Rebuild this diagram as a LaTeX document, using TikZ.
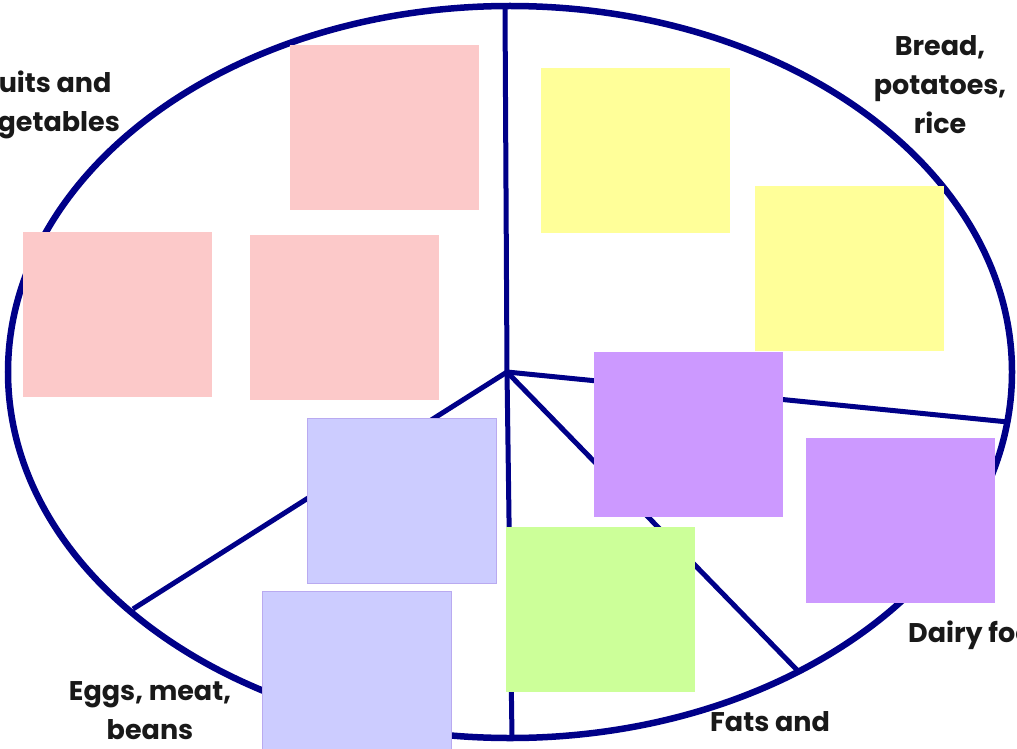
\documentclass[tikz,border=0pt]{standalone}
\usepackage{fontspec}
\setmainfont{Poppins}
\usetikzlibrary{calc}
\definecolor{navy}{RGB}{0,0,136}
\definecolor{pinkbox}{RGB}{252,201,201}
\definecolor{yellowbox}{RGB}{255,255,153}
\definecolor{purplebox}{RGB}{204,153,255}
\definecolor{lavbox}{RGB}{204,204,255}
\definecolor{lavedge}{RGB}{185,170,240}
\definecolor{greenbox}{RGB}{204,255,153}
\begin{document}
\begin{tikzpicture}[x=1pt,y=-1pt,
  lbl/.style={font=\fontsize{27}{39}\selectfont\bfseries,text=black!90,align=center,inner sep=0pt}]
  \useasboundingbox (0,0) rectangle (1017,749);
  \clip (0,0) rectangle (1017,749);
  \coordinate (O) at (507,372);
  \coordinate (T) at (505,7); \coordinate (R) at (1008,422);
  \coordinate (S) at (798,671); \coordinate (B) at (512,738);
  \coordinate (W) at (133,609);
  \draw[navy,line width=6.5pt] (510,372) ellipse [x radius=502,y radius=366];
  \foreach \p in {T,R,S,B,W}
    \draw[navy,line width=5pt] (O)--(\p);
  \foreach \x/\y/\c in {290/45/pinkbox,23/232/pinkbox,250/235/pinkbox,
      541/68/yellowbox,755/186/yellowbox,594/352/purplebox,806/438/purplebox,
      506/527/greenbox}
    \fill[\c] (\x,\y) rectangle ++(189,165);
  \foreach \x/\y in {307/418,262/591}
    \filldraw[fill=lavbox,draw=lavedge,line width=1pt] (\x,\y) rectangle ++(189,165);
  \node[lbl] (fruit) at (42,105) {Fruits and\\vegetables};
  \node[lbl] (bread) at (940,85) {Bread,\\potatoes,\\rice};
  \node[lbl] (eggs) at (150,711) {Eggs, meat,\\beans};
  \node[lbl,anchor=west] (fats) at (710,722) {Fats and};
  \node[lbl,anchor=west] (dairy) at (908,635) {Dairy foods};
\end{tikzpicture}
\end{document}
